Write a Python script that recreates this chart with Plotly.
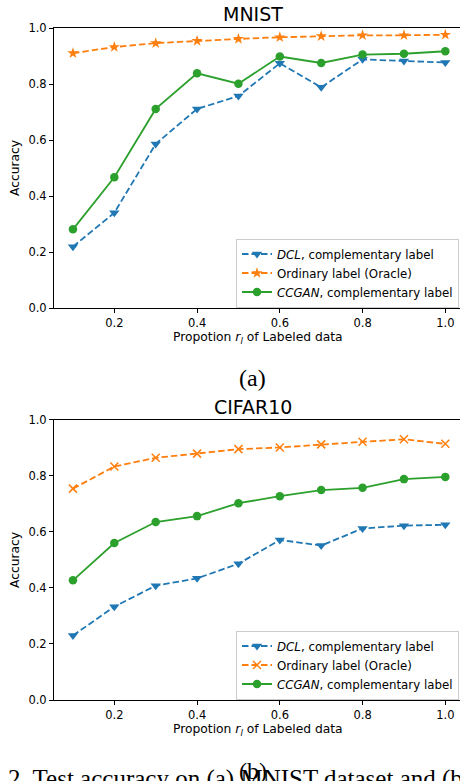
import plotly.graph_objects as go

W, H = 460, 781

x_vals = [0.1, 0.2, 0.3, 0.4, 0.5, 0.6, 0.7, 0.8, 0.9, 1.0]

mnist_dcl = [0.219, 0.340, 0.586, 0.711, 0.757, 0.874, 0.788, 0.888, 0.882, 0.877]
mnist_oracle = [0.910, 0.932, 0.946, 0.954, 0.961, 0.967, 0.971, 0.974, 0.974, 0.976]
mnist_ccgan = [0.281, 0.467, 0.711, 0.838, 0.801, 0.898, 0.875, 0.905, 0.908, 0.917]

cifar_dcl = [0.230, 0.333, 0.408, 0.434, 0.486, 0.571, 0.551, 0.612, 0.622, 0.625]
cifar_oracle = [0.754, 0.833, 0.864, 0.879, 0.895, 0.901, 0.912, 0.921, 0.930, 0.914]
cifar_ccgan = [0.427, 0.560, 0.635, 0.656, 0.702, 0.727, 0.749, 0.757, 0.788, 0.796]

names = ["<i>DCL</i>, complementary label", "Ordinary label (Oracle)",
         "<i>CCGAN</i>, complementary label"]
x_ticks = [0.2, 0.4, 0.6, 0.8, 1.0]
y_ticks = [0.0, 0.2, 0.4, 0.6, 0.8, 1.0]

BLUE, ORANGE, GREEN = "#1f77b4", "#ff7f0e", "#2ca02c"
FONT = "DejaVu Sans"
SERIF = "Liberation Serif"
DASH = "6.5px,3px"


def py(p):
    return 1 - p / H


def px(p):
    return p / W


fig = go.Figure()


def add_series(xa, ya, leg, dcl, oracle, ccgan, oracle_symbol):
    fig.add_trace(go.Scatter(
        x=x_vals, y=dcl, name=names[0], xaxis=xa, yaxis=ya, legend=leg,
        mode="lines+markers",
        line=dict(color=BLUE, width=1.8, dash=DASH),
        marker=dict(symbol="triangle-down", size=9, color=BLUE)))
    if oracle_symbol == "star":
        mk = dict(symbol="star", size=8.5, color=ORANGE)
    else:
        mk = dict(symbol="x-thin", size=8, color=ORANGE,
                  line=dict(color=ORANGE, width=1.5))
    fig.add_trace(go.Scatter(
        x=x_vals, y=oracle, name=names[1], xaxis=xa, yaxis=ya, legend=leg,
        mode="lines+markers",
        line=dict(color=ORANGE, width=1.8, dash=DASH),
        marker=mk))
    fig.add_trace(go.Scatter(
        x=x_vals, y=ccgan, name=names[2], xaxis=xa, yaxis=ya, legend=leg,
        mode="lines+markers",
        line=dict(color=GREEN, width=1.8),
        marker=dict(symbol="circle", size=8.5, color=GREEN)))


add_series("x", "y", "legend", mnist_dcl, mnist_oracle, mnist_ccgan, "star")
add_series("x2", "y2", "legend2", cifar_dcl, cifar_oracle, cifar_ccgan, "x")

xrange_ = [0.0542, 1.0355]
axis_common = dict(
    showline=True, linecolor="black", linewidth=1,
    ticks="outside", ticklen=4, tickwidth=1, tickcolor="black",
    tickfont=dict(family=FONT, size=11.5, color="black"),
    showgrid=False, zeroline=False, automargin=False,
)

fig.update_layout(
    width=W, height=H,
    margin=dict(l=0, r=0, t=0, b=0, pad=0, autoexpand=False),
    paper_bgcolor="white", plot_bgcolor="white",
    font=dict(family=FONT, size=11.5, color="black"),
    xaxis=dict(domain=[px(54), 1], range=xrange_, tickvals=x_ticks,
               ticktext=[f"{v:.1f}" for v in x_ticks], anchor="y",
               mirror=True, **axis_common),
    yaxis=dict(domain=[py(308), py(28)], range=[0, 1], tickvals=y_ticks,
               ticktext=[f"{v:.1f}" for v in y_ticks], anchor="x",
               **axis_common),
    xaxis2=dict(domain=[px(54), 1], range=xrange_, tickvals=x_ticks,
                ticktext=[f"{v:.1f}" for v in x_ticks], anchor="y2",
                mirror=True, **axis_common),
    yaxis2=dict(domain=[py(700), py(419.7)], range=[0, 1], tickvals=y_ticks,
                ticktext=[f"{v:.1f}" for v in y_ticks], anchor="x2",
                **axis_common),
    legend=dict(x=px(459), xanchor="right", y=py(238.5), yanchor="top",
                bgcolor="rgba(255,255,255,0.8)", bordercolor="#cccccc",
                borderwidth=1, font=dict(family=FONT, size=11.8, color="black")),
    legend2=dict(x=px(459), xanchor="right", y=py(630.5), yanchor="top",
                 bgcolor="rgba(255,255,255,0.8)", bordercolor="#cccccc",
                 borderwidth=1, font=dict(family=FONT, size=11.8, color="black")),
    showlegend=True,
)

xlabel = "Propotion <i>r<sub>l</sub></i> of Labeled data"
ann = [
    dict(text="MNIST", x=px(252.5), y=py(14), font=dict(family=FONT, size=19)),
    dict(text="CIFAR10", x=px(252.5), y=py(406.5), font=dict(family=FONT, size=19)),
    dict(text=xlabel, x=px(258), y=py(338), font=dict(family=FONT, size=12.3)),
    dict(text=xlabel, x=px(258), y=py(730), font=dict(family=FONT, size=12.3)),
    dict(text="Accuracy", x=px(15), y=py(168), textangle=-90, font=dict(family=FONT, size=12.3)),
    dict(text="Accuracy", x=px(15), y=py(560), textangle=-90, font=dict(family=FONT, size=12.3)),
    dict(text="(a)", x=px(252.5), y=py(378), font=dict(family=SERIF, size=24)),
    dict(text="(b)", x=px(252.5), y=py(771), font=dict(family=SERIF, size=24)),
]
for a in ann:
    a.update(xref="paper", yref="paper", showarrow=False, xanchor="center",
             yanchor="middle")
    a["font"]["color"] = "black"
fig.update_layout(annotations=ann)
fig.add_annotation(text="2. Test accuracy on (a) MNIST dataset and (b) CIFAR10 dataset.",
                   xref="paper", yref="paper", x=px(6), y=py(778.5),
                   xanchor="left", yanchor="middle", showarrow=False,
                   font=dict(family=SERIF, size=25, color="black"))

fig.write_html("out.html", config={"displayModeBar": False},
               post_script="document.body.style.margin='0';document.body.style.overflow='hidden';")
